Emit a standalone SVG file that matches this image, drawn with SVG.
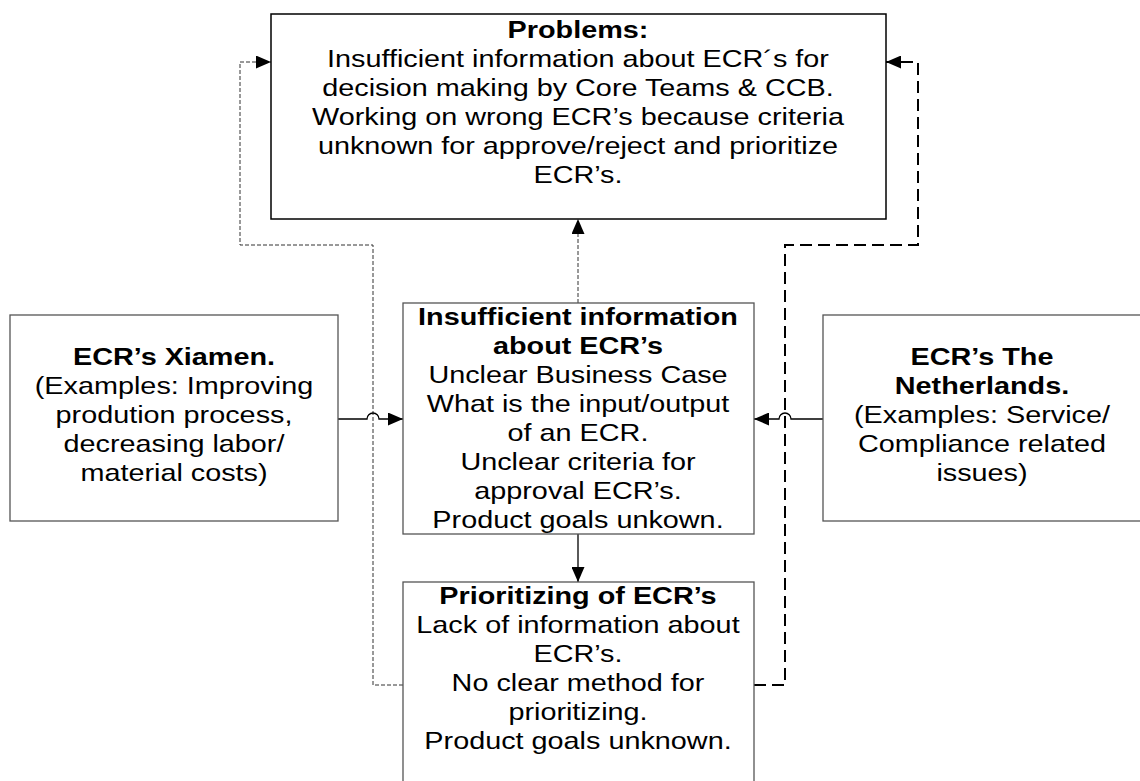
<svg xmlns="http://www.w3.org/2000/svg" width="1140" height="781" viewBox="0 0 1140 781">
<style>
.box{fill:#fff;stroke:#555;stroke-width:1.3}
.pbox{fill:#fff;stroke:#000;stroke-width:1.5}
text{font-family:"Liberation Sans",Arial,sans-serif;font-size:24px;text-anchor:middle;fill:#000}
.b{font-weight:bold}
.solid{fill:none;stroke:#000;stroke-width:1.3}
.fine{fill:none;stroke:#333;stroke-width:1;stroke-dasharray:4 2}
.long{fill:none;stroke:#000;stroke-width:2;stroke-dasharray:12 6}
</style>
<defs>
<marker id="ah" markerWidth="15" markerHeight="13" refX="15" refY="6.5" orient="auto" markerUnits="userSpaceOnUse">
<path d="M0,0 L15,6.5 L0,13 Z" fill="#000"/>
</marker>
</defs>
<rect width="1140" height="781" fill="#fff"/>
<g id="connectors">
<path class="fine" d="M578,303 V219" marker-end="url(#ah)"/>
<path class="solid" d="M578,534 V582" marker-end="url(#ah)"/>
<path class="fine" d="M403,685 H373 V245 H240 V62 H271" marker-end="url(#ah)"/>
<path class="long" d="M754,685 H785 V245 H918 V62 H886" marker-end="url(#ah)"/>
<path class="solid" d="M338,419 H367 A6,6 0 0 1 379,419 H403" marker-end="url(#ah)"/>
<path class="solid" d="M823,419 H791 A6,6 0 0 0 779,419 H754" marker-end="url(#ah)"/>
</g>
<g id="problems">
<rect class="pbox" x="271" y="14" width="615" height="205"/>
<g transform="translate(578,0) scale(1.2,1) translate(-578,0)">
<text x="578" y="38" class="b">Problems:</text>
<text x="578" y="67">Insufficient information about ECR´s for</text>
<text x="578" y="96">decision making by Core Teams &amp; CCB.</text>
<text x="578" y="125">Working on wrong ECR’s because criteria</text>
<text x="578" y="154">unknown for approve/reject and prioritize</text>
<text x="578" y="183">ECR’s.</text>
</g>
</g>
<g id="insufficient">
<rect class="box" x="403" y="303" width="351" height="231"/>
<g transform="translate(578,0) scale(1.2,1) translate(-578,0)">
<text x="578" y="325" class="b">Insufficient information</text>
<text x="578" y="354" class="b">about ECR’s</text>
<text x="578" y="383">Unclear Business Case</text>
<text x="578" y="412">What is the input/output</text>
<text x="578" y="441">of an ECR.</text>
<text x="578" y="470">Unclear criteria for</text>
<text x="578" y="499">approval ECR’s.</text>
<text x="578" y="528">Product goals unkown.</text>
</g>
</g>
<g id="xiamen">
<rect class="box" x="10" y="315" width="328" height="206"/>
<g transform="translate(174,0) scale(1.2,1) translate(-174,0)">
<text x="174" y="365" class="b">ECR’s Xiamen.</text>
<text x="174" y="394">(Examples: Improving</text>
<text x="174" y="423">prodution process,</text>
<text x="174" y="452">decreasing labor/</text>
<text x="174" y="481">material costs)</text>
</g>
</g>
<g id="netherlands">
<rect class="box" x="823" y="315" width="330" height="206"/>
<g transform="translate(982,0) scale(1.2,1) translate(-982,0)">
<text x="982" y="365" class="b">ECR’s The</text>
<text x="982" y="394" class="b">Netherlands.</text>
<text x="982" y="423">(Examples: Service/</text>
<text x="982" y="452">Compliance related</text>
<text x="982" y="481">issues)</text>
</g>
</g>
<g id="prioritizing">
<rect class="box" x="403" y="582" width="351" height="210"/>
<g transform="translate(578,0) scale(1.2,1) translate(-578,0)">
<text x="578" y="604" class="b">Prioritizing of ECR’s</text>
<text x="578" y="633">Lack of information about</text>
<text x="578" y="662">ECR’s.</text>
<text x="578" y="691">No clear method for</text>
<text x="578" y="720">prioritizing.</text>
<text x="578" y="749">Product goals unknown.</text>
</g>
</g>
</svg>
